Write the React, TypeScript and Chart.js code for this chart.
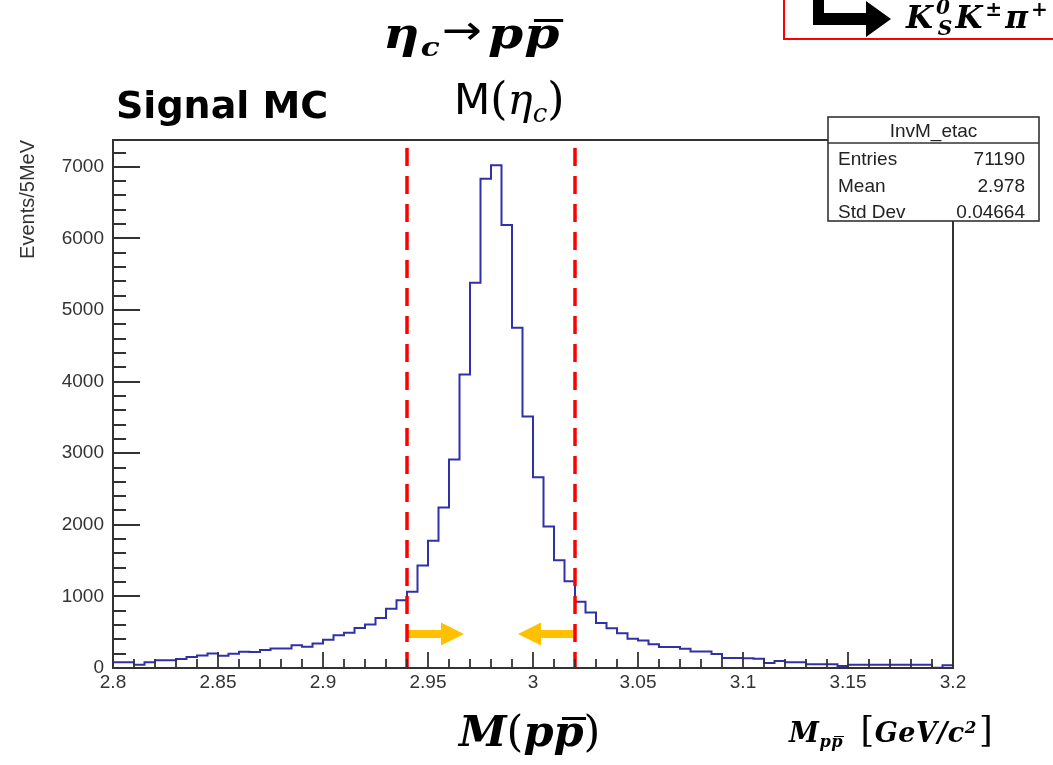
import React, { useEffect, useRef } from 'react';
import { Chart, registerables } from 'chart.js';

Chart.register(...registerables);

// ---------------- data ----------------
const HIST_MIN = 2.8;
const HIST_MAX = 3.2;
const BIN_WIDTH = 0.005; // 5 MeV bins
const COUNTS = [
  79, 79, 46, 79, 107, 107, 125, 153, 176, 204,
  171, 199, 227, 222, 250, 273, 273, 319, 296, 343,
  394, 458, 491, 560, 606, 699, 829, 945, 1065, 1432,
  1778, 2242, 2914, 4100, 5380, 6835, 7024, 6188, 4753, 3512,
  2665, 1978, 1504, 1211, 924, 775, 630, 556, 486, 407,
  384, 333, 292, 292, 269, 231, 231, 194, 139, 139,
  135, 130, 69, 97, 79, 79, 51, 51, 51, 28,
  46, 46, 46, 46, 46, 46, 46, 46, 5, 37,
];
const X_TICKS = [2.8, 2.85, 2.9, 2.95, 3.0, 3.05, 3.1, 3.15, 3.2];
const X_TICK_LABELS = ['2.8', '2.85', '2.9', '2.95', '3', '3.05', '3.1', '3.15', '3.2'];
const Y_TICKS = [0, 1000, 2000, 3000, 4000, 5000, 6000, 7000];
const Y_TICK_LABELS = ['0', '1000', '2000', '3000', '4000', '5000', '6000', '7000'];
const Y_MAX = 7375;
const CUTS = [2.94, 3.02];
const ARROW_LEVEL = 475;
const STATS_TITLE = 'InvM_etac';
const STATS_LABELS = ['Entries', 'Mean', 'Std Dev'];
const STATS_VALUES = ['71190', '2.978', '0.04664'];

const SANS = '"Liberation Sans", Arial, Helvetica, sans-serif';
const MATH = '"DejaVu Serif", serif';
const SLIDE_SANS = '"DejaVu Sans", sans-serif';

const rootPlugin = {
  id: 'rootStyle',
  afterDatasetsDraw(chart: any) {
    const { ctx, chartArea: a, scales } = chart;
    const x = scales.x;
    const y = scales.y;
    ctx.save();

    // yellow arrows
    const ay = y.getPixelForValue(ARROW_LEVEL);
    const drawArrow = (x0: number, dir: number) => {
      const len = 57, head = 23, half = 11.5, shaft = 4;
      const xh = x0 + dir * (len - head);
      const xt = x0 + dir * len;
      ctx.fillStyle = '#FFC000';
      ctx.beginPath();
      ctx.moveTo(x0, ay - shaft);
      ctx.lineTo(xh, ay - shaft);
      ctx.lineTo(xh, ay - half);
      ctx.lineTo(xt, ay);
      ctx.lineTo(xh, ay + half);
      ctx.lineTo(xh, ay + shaft);
      ctx.lineTo(x0, ay + shaft);
      ctx.closePath();
      ctx.fill();
    };
    drawArrow(x.getPixelForValue(CUTS[0]), 1);
    drawArrow(x.getPixelForValue(CUTS[1]), -1);

    // red dashed cut lines
    ctx.strokeStyle = '#FF0000';
    ctx.lineWidth = 3.5;
    ctx.setLineDash([18, 10]);
    CUTS.forEach((c) => {
      const px = x.getPixelForValue(c);
      ctx.beginPath();
      ctx.moveTo(px, a.top + 8);
      ctx.lineTo(px, a.bottom);
      ctx.stroke();
    });
    ctx.setLineDash([]);

    // frame
    ctx.strokeStyle = '#333';
    ctx.lineWidth = 2;
    ctx.strokeRect(a.left, a.top, a.right - a.left, a.bottom - a.top);

    // ticks (inside)
    ctx.lineWidth = 1.8;
    ctx.beginPath();
    for (let i = 0; i <= 40; i++) {
      const v = HIST_MIN + i * 0.01;
      const px = Math.round(x.getPixelForValue(v));
      const len = i % 5 === 0 ? 16 : 9;
      ctx.moveTo(px, a.bottom);
      ctx.lineTo(px, a.bottom - len);
    }
    for (let i = 0; i * 200 <= Y_MAX; i++) {
      const py = Math.round(y.getPixelForValue(i * 200));
      const len = i % 5 === 0 ? 27 : 13;
      ctx.moveTo(a.left, py);
      ctx.lineTo(a.left + len, py);
    }
    ctx.stroke();

    // stats box
    const bx = 828, by = 117, bw = 211, bh = 104;
    ctx.fillStyle = '#fff';
    ctx.fillRect(bx, by, bw, bh);
    ctx.strokeStyle = '#333';
    ctx.lineWidth = 1.6;
    ctx.strokeRect(bx, by, bw, bh);
    ctx.beginPath();
    ctx.moveTo(bx, by + 26);
    ctx.lineTo(bx + bw, by + 26);
    ctx.stroke();
    ctx.fillStyle = '#222';
    ctx.font = `19px ${SANS}`;
    ctx.textBaseline = 'alphabetic';
    ctx.textAlign = 'center';
    ctx.fillText(STATS_TITLE, bx + bw / 2, by + 20);
    STATS_LABELS.forEach((lab, i) => {
      const base = by + 48 + i * 26.5;
      ctx.textAlign = 'left';
      ctx.fillText(lab, bx + 10, base);
      ctx.textAlign = 'right';
      ctx.fillText(STATS_VALUES[i], bx + bw - 14, base);
    });
    ctx.restore();
  },
};

const Overline = ({ children, top = '0.16em' }: any) => (
  <span style={{ position: 'relative', display: 'inline-block' }}>
    {children}
    <span
      style={{
        position: 'absolute',
        left: '0.2em',
        right: '-0.05em',
        top,
        height: '0.065em',
        background: '#000',
      }}
    />
  </span>
);

export default function App() {
  const ref = useRef<HTMLCanvasElement>(null);

  useEffect(() => {
    const canvas = ref.current!;
    Chart.defaults.font.family = SANS;
    const points = COUNTS.map((c, i) => ({ x: HIST_MIN + i * BIN_WIDTH, y: c }));
    points.push({ x: HIST_MAX, y: COUNTS[COUNTS.length - 1] });

    const chart = new Chart(canvas, {
      type: 'line',
      data: {
        datasets: [
          {
            data: points,
            borderColor: '#3030a8',
            borderWidth: 2,
            pointRadius: 0,
            stepped: 'before',
            fill: false,
            tension: 0,
          },
        ],
      },
      options: {
        animation: false,
        responsive: false,
        maintainAspectRatio: false,
        devicePixelRatio: 1,
        events: [],
        layout: { padding: { left: 0, right: 100, top: 140, bottom: 0 } },
        plugins: { legend: { display: false }, tooltip: { enabled: false } },
        scales: {
          x: {
            type: 'linear',
            min: HIST_MIN,
            max: HIST_MAX,
            grid: { display: false, drawTicks: false },
            border: { display: false },
            afterBuildTicks: (s: any) => {
              s.ticks = X_TICKS.map((v) => ({ value: v }));
            },
            afterFit: (s: any) => {
              s.height = 97;
            },
            ticks: {
              autoSkip: false,
              maxRotation: 0,
              padding: 3,
              color: '#333',
              font: { size: 19 },
              callback: (_v: any, i: number) => X_TICK_LABELS[i],
            },
          },
          y: {
            type: 'linear',
            min: 0,
            max: Y_MAX,
            grid: { display: false, drawTicks: false },
            border: { display: false },
            afterBuildTicks: (s: any) => {
              s.ticks = Y_TICKS.map((v) => ({ value: v }));
            },
            afterFit: (s: any) => {
              s.width = 113;
            },
            ticks: {
              padding: 9,
              color: '#333',
              font: { size: 19 },
              callback: (_v: any, i: number) => Y_TICK_LABELS[i],
            },
            title: {
              display: true,
              text: 'Events/5MeV',
              align: 'end',
              color: '#333',
              font: { size: 20 },
              padding: { top: 16, bottom: 0 },
            },
          },
        },
      },
      plugins: [rootPlugin],
    } as any);
    return () => chart.destroy();
  }, []);

  const mathBI: any = {
    fontFamily: MATH,
    fontWeight: 'bold',
    fontStyle: 'italic',
    lineHeight: 1,
    whiteSpace: 'nowrap',
    position: 'absolute',
    color: '#000',
  };

  return (
    <div
      style={{
        position: 'absolute',
        left: 0,
        top: 0,
        width: 1053,
        height: 765,
        overflow: 'hidden',
        background: '#fff',
      }}
    >
      <canvas
        ref={ref}
        width={1053}
        height={765}
        style={{ position: 'absolute', left: 0, top: 0, width: 1053, height: 765 }}
      />

      {/* eta_c -> p pbar */}
      <div
        style={{
          ...mathBI,
          left: 383,
          top: 12,
          fontSize: 43,
          letterSpacing: '1px',
          transform: 'scaleX(1.17)',
          transformOrigin: 'left top',
        }}
      >
        η
        <span style={{ fontSize: '0.62em', position: 'relative', top: '0.3em' }}>c</span>
        <span
          style={{
            fontFamily: SLIDE_SANS,
            fontWeight: 'normal',
            fontStyle: 'normal',
            fontSize: '0.95em',
            position: 'relative',
            top: '-0.1em',
            margin: '0 4px 0 1px',
          }}
        >
          →
        </span>
        p<Overline>p</Overline>
      </div>

      {/* M(eta_c) */}
      <div style={{ position: 'absolute', left: 454, top: 77, fontSize: 42, lineHeight: 1, whiteSpace: 'nowrap' }}>
        <span style={{ fontFamily: SLIDE_SANS }}>M</span>
        <span style={{ fontFamily: MATH, fontSize: '1.05em' }}>(</span>
        <span style={{ fontFamily: MATH, fontStyle: 'italic' }}>η</span>
        <span style={{ fontFamily: MATH, fontStyle: 'italic', fontSize: '0.62em', position: 'relative', top: '0.3em' }}>
          c
        </span>
        <span style={{ fontFamily: MATH, fontSize: '1.05em' }}>)</span>
      </div>

      {/* Signal MC */}
      <div
        style={{
          position: 'absolute',
          left: 116,
          top: 86,
          fontFamily: SLIDE_SANS,
          fontWeight: 'bold',
          fontSize: 38,
          lineHeight: 1,
          whiteSpace: 'nowrap',
        }}
      >
        Signal MC
      </div>

      {/* M(p pbar) */}
      <div style={{ ...mathBI, left: 459, top: 710, fontSize: 43 }}>
        M<span style={{ fontStyle: 'normal', fontWeight: 'normal' }}>(</span>p<Overline>p</Overline>
        <span style={{ fontStyle: 'normal', fontWeight: 'normal' }}>)</span>
      </div>

      {/* axis title M_{p pbar} [GeV/c^2] */}
      <div style={{ ...mathBI, left: 789, top: 712, fontSize: 27, letterSpacing: '0.5px' }}>
        M
        <span style={{ fontSize: '0.6em', position: 'relative', top: '0.3em' }}>
          p<Overline top="0.12em">p</Overline>
        </span>
        <span style={{ fontStyle: 'normal', fontWeight: 'normal', fontSize: '1.3em', marginLeft: '0.5em' }}>[</span>
        GeV/c
        <span style={{ fontSize: '0.62em', position: 'relative', top: '-0.55em' }}>2</span>
        <span style={{ fontStyle: 'normal', fontWeight: 'normal', fontSize: '1.3em', marginLeft: '2px' }}>]</span>
      </div>

      {/* red box top-right */}
      <div
        style={{
          position: 'absolute',
          left: 783,
          top: -10,
          width: 300,
          height: 50,
          border: '2px solid #FF0000',
          boxSizing: 'border-box',
        }}
      />
      <svg style={{ position: 'absolute', left: 0, top: 0 }} width={1053} height={50}>
        <path d="M813,0 L824,0 L824,13 L866,13 L866,1 L891,19 L866,37 L866,25 L813,25 Z" fill="#000" />
      </svg>
      <div style={{ ...mathBI, left: 906, top: 2, fontSize: 31, letterSpacing: '3px' }}>
        K<span style={{ fontSize: '0.65em', position: 'relative', top: '-0.7em' }}>0</span>
        <span style={{ fontSize: '0.65em', position: 'relative', top: '0.35em', marginLeft: '-0.75em' }}>S</span>
        K<span style={{ fontSize: '0.65em', position: 'relative', top: '-0.6em' }}>±</span>π
        <span style={{ fontSize: '0.65em', position: 'relative', top: '-0.6em' }}>+</span>
      </div>
    </div>
  );
}
